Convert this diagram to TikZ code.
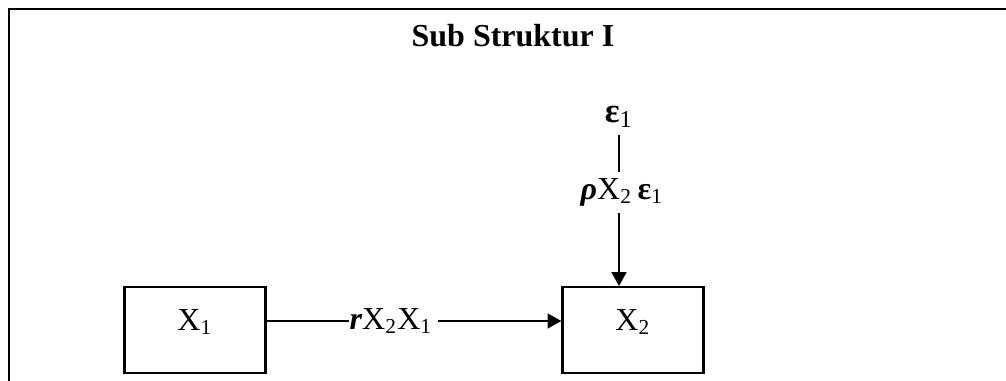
\documentclass[tikz,border=0pt]{standalone}
\usepackage{fontspec}
\setmainfont{Liberation Serif}
\usetikzlibrary{arrows.meta}

\begin{document}
\begin{tikzpicture}[
  x=0.375pt, y=-0.375pt,
  varbox/.style={draw=black, line width=0.8pt, minimum width=52.9pt, minimum height=32.2pt,
    inner sep=0pt, text height=7pt, text depth=7pt, font=\fontsize{12}{14}\selectfont},
  coef/.style={inner sep=0pt, font=\fontsize{12}{14}\selectfont},
  path_line/.style={line width=0.6pt},
  path_arrow/.style={line width=0.7pt, -{Triangle[length=5.2pt,width=5.6pt]}}
]

  \useasboundingbox (0,0) rectangle (1006,381);

  % Frame
  \draw[line width=0.8pt] (9,381) -- (9,9) -- (1006,9);

  % Title
  \node[coef, font=\bfseries\fontsize{12}{14}\selectfont] (title) at (513,36) {Sub Struktur I};

  % Variables
  \node[varbox] (x1) at (195,330) {X\textsubscript{1}};
  \node[varbox] (x2) at (633,330) {X\textsubscript{2}};

  % Residual
  \node[coef, font=\bfseries\fontsize{13}{15}\selectfont] (e1) at (619,117) {ε\textsubscript{\normalfont 1}};

  % Path coefficients
  \node[coef] (p21) at (391,321) {\textbf{\textit{r}}X\textsubscript{2}X\textsubscript{1}};
  \node[coef] (pe1) at (622,192) {\textbf{\textit{ρ}}X\textsubscript{2}\,\textbf{ε}\textsubscript{1}};

  % Paths
  \draw[path_line] (x1.east |- p21) -- (p21.west);
  \draw[path_arrow] ([xshift=2pt]p21.east) -- (x2.west |- p21);
  \draw[path_line] ([yshift=-2.5pt]e1.south) -- ([yshift=2pt]e1.south |- pe1.north);
  \draw[path_arrow] ([yshift=-2.5pt]pe1.south -| e1) -- (x2.north -| e1);

\end{tikzpicture}
\end{document}
